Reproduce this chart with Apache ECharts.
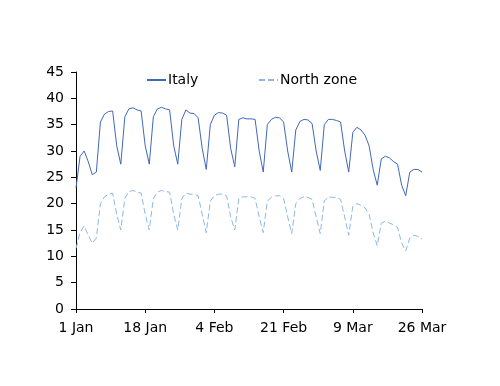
<!DOCTYPE html>
<html>
<head>
<meta charset="utf-8">
<script src="https://cdn.jsdelivr.net/npm/echarts@6/dist/echarts.min.js"></script>
<style>html,body{margin:0;padding:0;background:#fff}#c{width:500px;height:386px}</style>
</head>
<body>
<div id="c"></div>
<script>
const startDate = [2020, 0, 1];
const dayCount = 86;
const tickLabels = ['1 Jan', '18 Jan', '4 Feb', '21 Feb', '9 Mar', '26 Mar'];
const yTicks = [0, 5, 10, 15, 20, 25, 30, 35, 40, 45];
const seriesNames = ['Italy', 'North zone'];
const italy = [23, 29, 30, 28, 25.5, 26, 35.5, 37, 37.5, 37.6, 31, 27.5, 36.5, 38, 38.2, 37.8, 37.6,
  31, 27.5, 36.5, 38, 38.3, 38, 37.8, 31, 27.5, 36, 37.8, 37.2, 37.1, 36.3, 30.5, 26.5, 35, 36.8,
  37.3, 37.2, 36.8, 30.5, 27, 36, 36.3, 36.1, 36.1, 36, 30, 26, 35, 36, 36.4, 36.3, 35.5, 30, 26,
  34, 35.6, 36, 35.9, 35.2, 30, 26.3, 35, 36, 36, 35.8, 35.5, 30, 26, 33.5, 34.5, 34, 33, 31, 26.5,
  23.5, 28.5, 29, 28.7, 28, 27.5, 23.5, 21.5, 26, 26.5, 26.5, 26];
const northZone = [11.5, 14.5, 15.8, 14, 12.5, 13.5, 20, 21.3, 21.8, 22, 18, 15, 21, 22.3, 22.5, 22.2, 22,
  18, 15, 21, 22.2, 22.5, 22.3, 22.2, 18, 15, 21, 22, 21.8, 21.8, 21.5, 18, 14.5, 20.5, 21.5,
  21.8, 21.8, 21.5, 17.5, 15, 21, 21.3, 21.3, 21.3, 21, 17.5, 14.5, 20.5, 21.2, 21.5, 21.5, 21, 17.5, 14.3,
  20, 21, 21.3, 21.2, 20.8, 17.5, 14.3, 20.5, 21.3, 21.2, 21.2, 20.8, 17.5, 14, 19.5, 20, 19.7, 19.2, 18, 14.5,
  12, 16.3, 16.7, 16.3, 16, 15.5, 12.5, 11, 13.5, 14, 13.8, 13.3];

const months = ['Jan', 'Feb', 'Mar', 'Apr', 'May', 'Jun', 'Jul', 'Aug', 'Sep', 'Oct', 'Nov', 'Dec'];
const categories = [];
for (let i = 0; i < dayCount; i++) {
  const d = new Date(startDate[0], startDate[1], startDate[2] + i);
  categories.push(d.getDate() + ' ' + months[d.getMonth()]);
}

const font = 'DejaVu Sans';
const fs = 14;
const chart = echarts.init(document.getElementById('c'), null, {renderer: 'canvas'});
chart.setOption({
  animation: false,
  backgroundColor: '#fff',
  textStyle: {fontFamily: font},
  grid: {left: 76, right: 78, top: 72, bottom: 77, containLabel: false},
  legend: [
    {data: [seriesNames[0]], left: 141, top: 68, itemWidth: 19, itemHeight: 8, itemGap: 4,
      itemStyle: {opacity: 0},
      textStyle: {fontFamily: font, fontSize: fs, color: '#000', padding: [0, 0, 0, -3]}},
    {data: [seriesNames[1]], left: 253, top: 68, itemWidth: 19, itemHeight: 8, itemGap: 4,
      itemStyle: {opacity: 0},
      textStyle: {fontFamily: font, fontSize: fs, color: '#000', padding: [0, 0, 0, -3]}}
  ],
  xAxis: {
    type: 'category',
    data: categories,
    boundaryGap: false,
    axisLine: {lineStyle: {color: '#000', width: 1}},
    axisTick: {interval: 16, length: 4, lineStyle: {color: '#000'}},
    axisLabel: {interval: 16, color: '#000', fontFamily: font, fontSize: fs, margin: 12,
      formatter: v => tickLabels.includes(v) ? v : ''},
    splitLine: {show: false}
  },
  yAxis: {
    type: 'value',
    min: yTicks[0], max: yTicks[yTicks.length - 1], interval: 5,
    axisLine: {show: true, lineStyle: {color: '#000', width: 1}},
    axisTick: {show: true, length: 5, lineStyle: {color: '#000'}},
    axisLabel: {color: '#000', fontFamily: font, fontSize: fs, margin: 12},
    splitLine: {show: false}
  },
  series: [
    {name: seriesNames[0], type: 'line', data: italy, symbol: 'none',
      lineStyle: {color: '#4068BC', width: 1}, itemStyle: {color: '#4068BC'}},
    {name: seriesNames[1], type: 'line', data: northZone, symbol: 'none',
      lineStyle: {color: '#8CB8E8', width: 1, type: [6, 3]}, itemStyle: {color: '#8CB8E8'}}
  ]
});
</script>
</body>
</html>
